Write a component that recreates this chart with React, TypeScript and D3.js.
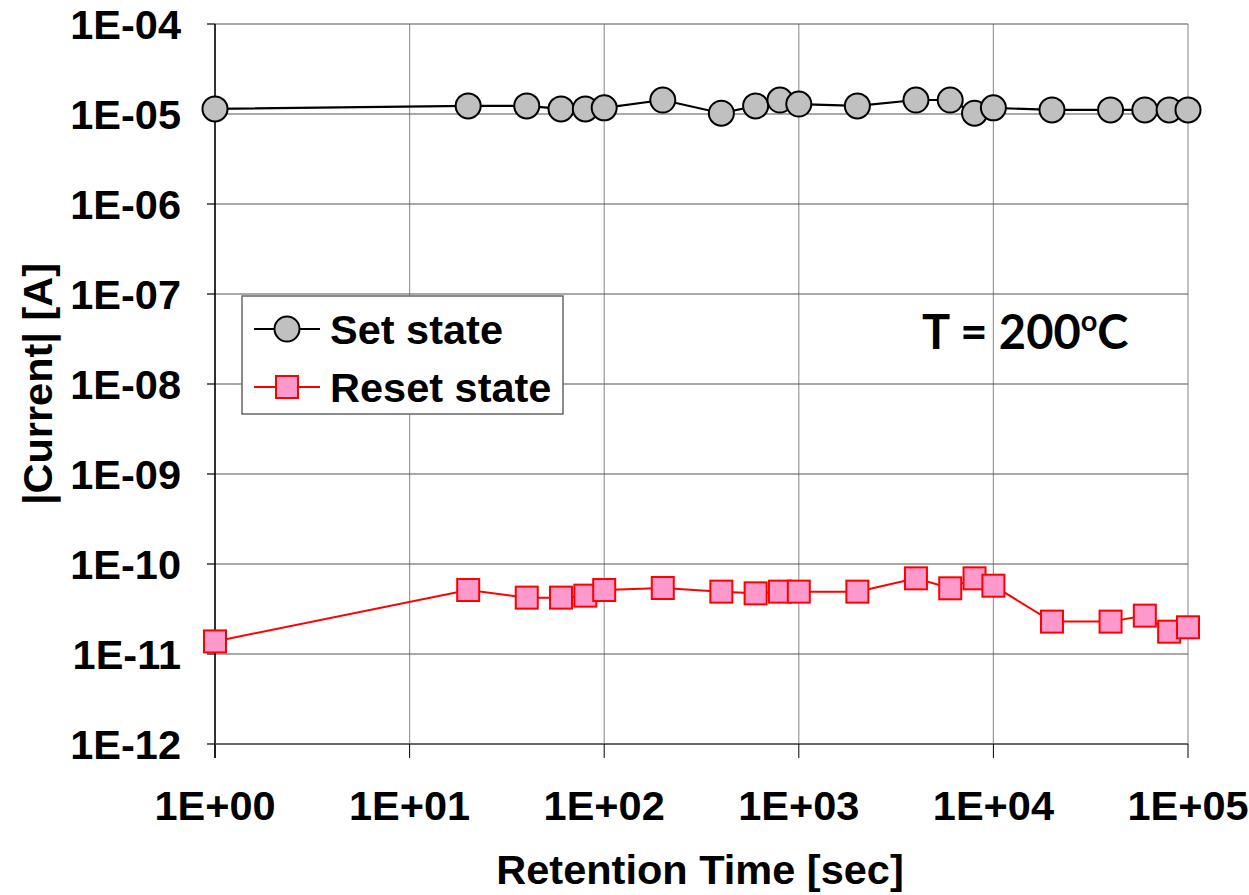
import React from 'react';
import * as d3 from 'd3';

const times = [1, 20, 40, 60, 80, 100, 200, 400, 600, 800, 1000, 2000, 4000, 6000, 8000, 10000, 20000, 40000, 60000, 80000, 100000];
const setCurrent = [
  1.14e-5, 1.23e-5, 1.23e-5, 1.14e-5, 1.14e-5, 1.17e-5, 1.43e-5, 1.02e-5, 1.23e-5, 1.43e-5, 1.29e-5,
  1.23e-5, 1.43e-5, 1.43e-5, 1.02e-5, 1.17e-5, 1.11e-5, 1.11e-5, 1.11e-5, 1.11e-5, 1.11e-5,
];
const resetCurrent = [
  1.38e-11, 5.14e-11, 4.23e-11, 4.23e-11, 4.45e-11, 5.14e-11, 5.41e-11, 4.93e-11, 4.72e-11, 4.93e-11, 4.93e-11,
  4.93e-11, 6.93e-11, 5.37e-11, 6.93e-11, 5.74e-11, 2.29e-11, 2.29e-11, 2.67e-11, 1.77e-11, 1.98e-11,
];
const xTicks = [1, 10, 100, 1000, 10000, 100000];
const xTickLabels = ['1E+00', '1E+01', '1E+02', '1E+03', '1E+04', '1E+05'];
const yTicks = [1e-4, 1e-5, 1e-6, 1e-7, 1e-8, 1e-9, 1e-10, 1e-11, 1e-12];
const yTickLabels = ['1E-04', '1E-05', '1E-06', '1E-07', '1E-08', '1E-09', '1E-10', '1E-11', '1E-12'];

const W = 1249;
const H = 895;
const left = 215, right = 1188, top = 24, bottom = 744;
const font = "'Liberation Sans', Arial, sans-serif";
const fs = 41.5;

export default function App() {
  const x = d3.scaleLog().domain([1, 1e5]).range([left, right]);
  const y = d3.scaleLog().domain([1e-12, 1e-4]).range([bottom, top]);

  const setPts = times.map((t, i) => [x(t), y(setCurrent[i])] as [number, number]);
  const resetPts = times.map((t, i) => [x(t), y(resetCurrent[i])] as [number, number]);
  const line = d3.line();
  const sq = 22;

  return (
    <svg width={W} height={H} style={{ position: 'absolute', left: 0, top: 0, background: '#fff' }}>
      {/* vertical grid */}
      {xTicks.map((t) => (
        <line key={'vx' + t} x1={x(t)} x2={x(t)} y1={top} y2={bottom} stroke="#999" strokeWidth={1.2} />
      ))}
      {/* horizontal grid */}
      {yTicks.map((t) => (
        <line key={'hy' + t} x1={left} x2={right} y1={y(t)} y2={y(t)} stroke="#555" strokeWidth={1.2} />
      ))}
      {/* axes */}
      <line x1={left} x2={left} y1={top} y2={bottom + 14} stroke="#000" strokeWidth={1.5} />
      <line x1={left} x2={right} y1={bottom} y2={bottom} stroke="#555" strokeWidth={1.5} />
      {yTicks.map((t, i) => (
        <g key={'yt' + t}>
          <line x1={left - 8} x2={left} y1={y(t)} y2={y(t)} stroke="#000" strokeWidth={1.2} />
          <text x={181} y={y(t)} dy="0.36em" textAnchor="end" fontFamily={font} fontWeight="bold" fontSize={fs}>
            {yTickLabels[i]}
          </text>
        </g>
      ))}
      {xTicks.map((t, i) => (
        <g key={'xt' + t}>
          <line x1={x(t)} x2={x(t)} y1={bottom} y2={bottom + 14} stroke="#000" strokeWidth={1} />
          <text x={x(t)} y={820} textAnchor="middle" fontFamily={font} fontWeight="bold" fontSize={fs}>
            {xTickLabels[i]}
          </text>
        </g>
      ))}
      {/* axis titles */}
      <text x={700} y={884} textAnchor="middle" fontFamily={font} fontWeight="bold" fontSize={fs}>
        Retention Time [sec]
      </text>
      <text
        transform={`translate(52, 384) rotate(-90)`}
        textAnchor="middle"
        fontFamily={font}
        fontWeight="bold"
        fontSize={fs}
      >
        |Current| [A]
      </text>

      {/* series */}
      <path d={line(setPts) || ''} fill="none" stroke="#000" strokeWidth={2.2} />
      {setPts.map(([cx, cy], i) => (
        <circle key={'s' + i} cx={cx} cy={cy} r={12.5} fill="#c0c0c0" stroke="#000" strokeWidth={2} />
      ))}
      <path d={line(resetPts) || ''} fill="none" stroke="#ff0000" strokeWidth={2} />
      {resetPts.map(([cx, cy], i) => (
        <rect key={'r' + i} x={cx - sq / 2} y={cy - sq / 2} width={sq} height={sq} fill="#ff99cc" stroke="#ff0000" strokeWidth={2} />
      ))}

      {/* legend */}
      <rect x={242} y={296} width={321} height={118} fill="#fff" stroke="#666" strokeWidth={1.5} />
      <line x1={254} x2={320} y1={329} y2={329} stroke="#000" strokeWidth={2} />
      <circle cx={287} cy={329} r={12.5} fill="#c0c0c0" stroke="#000" strokeWidth={2} />
      <text x={330} y={344} fontFamily={font} fontWeight="bold" fontSize={fs}>Set state</text>
      <line x1={254} x2={320} y1={387} y2={387} stroke="#ff0000" strokeWidth={2} />
      <rect x={287 - sq / 2} y={387 - sq / 2} width={sq} height={sq} fill="#ff99cc" stroke="#ff0000" strokeWidth={2} />
      <text x={330} y={402} fontFamily={font} fontWeight="bold" fontSize={fs}>Reset state</text>

      {/* annotation */}
      <text x={922} y={349} fontFamily="Lato, 'Open Sans', sans-serif" fontWeight="bold" fontSize={47}>
        T = 200<tspan dy={-18} fontSize={29}>o</tspan><tspan dy={18}>C</tspan>
      </text>
    </svg>
  );
}
